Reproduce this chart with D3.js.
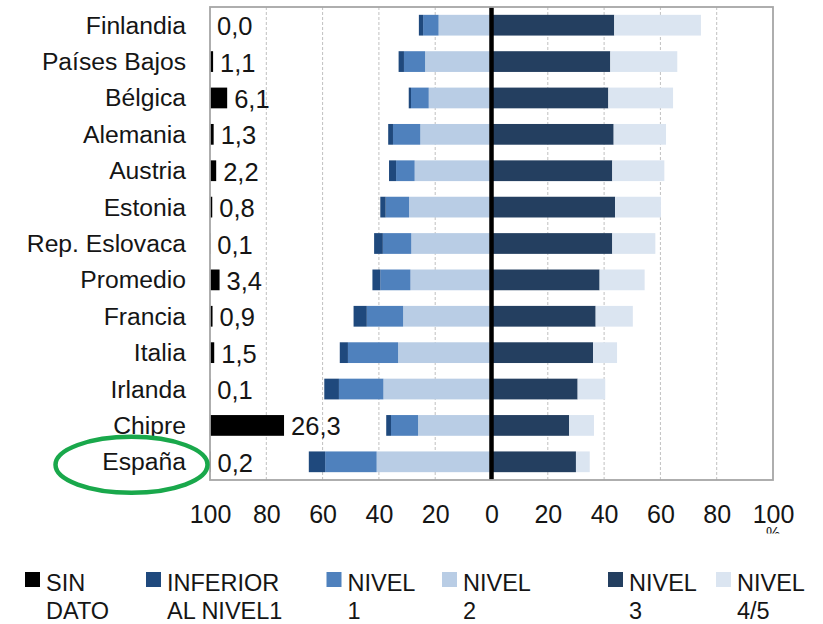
<!DOCTYPE html>
<html>
<head>
<meta charset="utf-8">
<script src="https://cdn.jsdelivr.net/npm/d3@7"></script>
<style>
  html, body { margin: 0; padding: 0; background: #ffffff; }
  svg { display: block; }
  text { font-family: "Helvetica Neue", "Liberation Sans", Arial, sans-serif; fill: #151515; }
</style>
</head>
<body>
<svg id="chart" width="823" height="624"></svg>
<script>
// ---- Data ----
const categories = ["Finlandia","Países Bajos","Bélgica","Alemania","Austria","Estonia","Rep. Eslovaca","Promedio","Francia","Italia","Irlanda","Chipre","España"];
const sinDato  = [0.0, 1.1, 6.1, 1.3, 2.2, 0.8, 0.1, 3.4, 0.9, 1.5, 0.1, 26.3, 0.2];
const inferior = [1.5, 1.9, 0.8, 1.7, 2.5, 1.9, 3.1, 2.8, 4.7, 2.9, 5.2, 1.7, 5.8];
const nivel1   = [5.5, 7.5, 6.3, 9.7, 6.6, 8.3, 10.1, 10.7, 12.9, 17.8, 15.8, 9.6, 18.3];
const nivel2   = [18.8, 23.6, 22.3, 25.3, 27.3, 29.3, 28.5, 28.8, 31.4, 33.2, 38.4, 26.1, 40.8];
const nivel3   = [43.6, 42.2, 41.5, 43.4, 42.9, 43.9, 42.9, 38.4, 37.0, 36.1, 30.6, 27.6, 30.0];
const nivel45  = [30.8, 23.8, 23.0, 18.6, 18.5, 16.3, 15.3, 16.0, 13.2, 8.5, 9.8, 8.8, 4.9];
const tickValues = [-100, -80, -60, -40, -20, 0, 20, 40, 60, 80, 100];
const legendLabels = [["SIN","DATO"],["INFERIOR","AL NIVEL1"],["NIVEL","1"],["NIVEL","2"],["NIVEL","3"],["NIVEL","4/5"]];
const highlighted = "España";

// ---- Styles ----
const colors = {
  sinDato: "#000000",
  inferior: "#1f497d",
  nivel1: "#4f81bd",
  nivel2: "#b9cde5",
  nivel3: "#243f60",
  nivel45: "#dbe5f1"
};

const svg = d3.select("#chart");
svg.append("rect").attr("width", 823).attr("height", 624).attr("fill", "#fff");

const plot = { left: 210, right: 773, top: 7, bottom: 480 };
const x = d3.scaleLinear().domain([-100, 100]).range([plot.left, plot.right]);
const y = d3.scaleBand().domain(categories).range([plot.top, plot.bottom])
  .paddingInner(0.43).paddingOuter(0.215);

// table for stacking (left part negative)
const table = categories.map((c, i) => ({
  cat: c,
  nivel2: -nivel2[i], nivel1: -nivel1[i], inferior: -inferior[i],
  nivel3: nivel3[i], nivel45: nivel45[i]
}));
const keys = ["nivel2", "nivel1", "inferior", "nivel3", "nivel45"];
const series = d3.stack().keys(keys).offset(d3.stackOffsetDiverging)(table);

// gridlines
const grid = svg.append("g");
grid.selectAll("line").data(tickValues.filter(v => v !== 0 && Math.abs(v) !== 100)).join("line")
  .attr("x1", d => x(d)).attr("x2", d => x(d))
  .attr("y1", plot.top).attr("y2", plot.bottom)
  .attr("stroke", "#c0c0c0").attr("stroke-width", 1).attr("stroke-dasharray", "3,2");

// stacked bars
svg.append("g").selectAll("g").data(series).join("g")
  .attr("fill", d => colors[d.key])
  .selectAll("rect").data(d => d).join("rect")
  .attr("x", d => x(Math.min(d[0], d[1])))
  .attr("width", d => Math.abs(x(d[1]) - x(d[0])))
  .attr("y", d => y(d.data.cat))
  .attr("height", y.bandwidth());

// sin dato bars from left edge
const sd = categories.map((c, i) => ({ cat: c, v: sinDato[i] }));
svg.append("g").selectAll("rect").data(sd).join("rect")
  .attr("x", x(-100))
  .attr("width", d => x(-100 + d.v) - x(-100))
  .attr("y", d => y(d.cat))
  .attr("height", y.bandwidth())
  .attr("fill", colors.sinDato);

const fmt = v => d3.format(".1f")(v).replace(".", ",");
svg.append("g").selectAll("text").data(sd).join("text")
  .attr("x", d => x(-100 + d.v) + 7)
  .attr("y", d => y(d.cat) + y.bandwidth() / 2 + 1)
  .attr("dominant-baseline", "central")
  .attr("font-size", 25.5)
  .text(d => fmt(d.v));

// zero line
svg.append("line")
  .attr("x1", x(0)).attr("x2", x(0))
  .attr("y1", plot.top).attr("y2", plot.bottom)
  .attr("stroke", "#000").attr("stroke-width", 4.5);

// plot border
svg.append("rect")
  .attr("x", plot.left).attr("y", plot.top)
  .attr("width", plot.right - plot.left).attr("height", plot.bottom - plot.top)
  .attr("fill", "none").attr("stroke", "#a6a6a6").attr("stroke-width", 1.8);

// category labels
svg.append("g").selectAll("text").data(categories).join("text")
  .attr("x", 186)
  .attr("y", d => y(d) + y.bandwidth() / 2)
  .attr("text-anchor", "end")
  .attr("dominant-baseline", "central")
  .attr("font-size", 24.7)
  .text(d => d);

// x axis tick labels
const xAxis = d3.axisBottom(x).tickValues(tickValues).tickFormat(d => Math.abs(d)).tickSize(0);
const ax = svg.append("g").attr("transform", `translate(0, ${plot.bottom})`).call(xAxis);
ax.select(".domain").remove();
ax.selectAll("text")
  .attr("y", 25)
  .attr("dy", "0.71em")
  .attr("font-size", 25)
  .attr("fill", "#151515")
  .style("font-family", "\"Helvetica Neue\", \"Liberation Sans\", Arial, sans-serif");

// clipped axis title "%"
svg.append("clipPath").attr("id", "pclip").append("rect")
  .attr("x", 740).attr("y", 526).attr("width", 80).attr("height", 7.5);
svg.append("text")
  .attr("x", x(100)).attr("y", 539)
  .attr("text-anchor", "middle")
  .attr("font-size", 16)
  .attr("clip-path", "url(#pclip)")
  .text("%");

// highlight ellipse around España
svg.append("ellipse")
  .attr("cx", 131.5)
  .attr("cy", y(highlighted) + y.bandwidth() / 2 + 3)
  .attr("rx", 76).attr("ry", 28)
  .attr("fill", "none").attr("stroke", "#19a84b").attr("stroke-width", 4.5);

// legend
const legendKeys = ["sinDato", "inferior", "nivel1", "nivel2", "nivel3", "nivel45"];
const legendX = [25, 146, 326.5, 442, 608, 716];
const lg = svg.append("g").selectAll("g").data(legendKeys).join("g")
  .attr("transform", (d, i) => `translate(${legendX[i]}, 572)`);
lg.append("rect").attr("width", 15).attr("height", 15).attr("fill", d => colors[d]);
lg.each(function(d, i) {
  const g = d3.select(this);
  legendLabels[i].forEach((line, j) => {
    g.append("text")
      .attr("x", 21)
      .attr("y", 19 + j * 27.5)
      .attr("font-size", 23.5)
      .text(line);
  });
});
</script>
</body>
</html>
